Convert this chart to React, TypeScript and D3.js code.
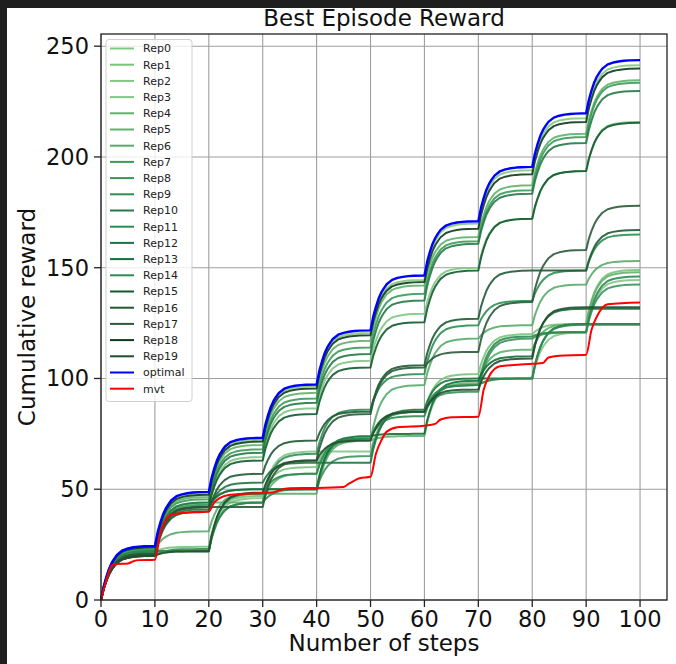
import React, { useEffect, useRef } from 'react';
import * as d3 from 'd3';

// plateau reached at the end of each 10-step patch (cumulative reward)
const optimal = [24.4, 48.8, 73.2, 97.3, 121.7, 146.5, 171, 195.5, 219.7, 243.7];

const rep0 = [24, 48.2, 72.3, 96.5, 120.5, 144.5, 170, 194, 217.5, 241.4];
const rep1 = [22, 24, 47, 60, 73, 85, 102, 120, 124.6, 149];
const rep2 = [21, 42.5, 64.5, 86.5, 108, 129.2, 150, 172.1, 193.6, 215.8];
const rep3 = [22, 22, 46, 67, 67, 85, 97, 100, 120.8, 144.5];
const rep4 = [23.4, 46.5, 70, 93.5, 117, 142, 163.9, 187.2, 210.5, 234.6];
const rep5 = [21, 44, 44, 57, 72, 74, 98, 113, 124.6, 148];
const rep6 = [23, 31, 48, 48, 72, 97, 118, 124, 142.4, 153];
const rep7 = [22.8, 45.5, 68, 91, 114, 138.2, 162, 185, 209, 233.5];
const rep8 = [21, 43, 50, 50, 65, 85, 94, 118, 120.8, 142.4];
const rep9 = [22, 22, 44, 66, 86, 102, 124, 135, 148.7, 165];
const rep10 = [22, 44, 66.5, 89, 111, 135.2, 160.8, 183.4, 206.3, 229.8];
const rep11 = [20, 23, 44, 50, 73, 83, 97, 119, 121, 146];
const rep12 = [20, 41, 53, 62, 62, 86, 100, 100, 124.6, 124.6];
const rep13 = [21, 42, 50, 50, 74, 75, 99, 110, 131.5, 131.5];
const rep14 = [22, 22, 48, 57, 73, 85, 97, 100, 124.3, 124.3];
const rep15 = [20.5, 42, 63, 84, 105, 125.4, 148.7, 172.1, 193.6, 215.4];
const rep16 = [20, 40, 57, 72, 85, 106, 127, 148.7, 148.7, 167];
const rep17 = [21, 42, 42, 63, 84, 105, 112, 134.5, 158, 178];
const rep18 = [23.8, 47.5, 71.5, 95.5, 119.5, 143.5, 167.6, 192.2, 215.8, 239.9];
const rep19 = [20, 22, 48.5, 63, 72, 85, 95, 109, 132.2, 132.2];

const reps = [rep0, rep1, rep2, rep3, rep4, rep5, rep6, rep7, rep8, rep9,
  rep10, rep11, rep12, rep13, rep14, rep15, rep16, rep17, rep18, rep19];

const repColors = ['#80c980', '#78c47a', '#80c784', '#84c58a', '#5fb16c', '#62b070', '#58ab6a',
  '#3c9a5a', '#3a935a', '#2e8f52', '#237a44', '#2f8a50', '#1e7440', '#137038', '#2e8a52',
  '#115a2e', '#1f5a34', '#2a5a3a', '#0e3a1e', '#264d30'];

// how a patch fills up: steps since entering the patch -> share of that patch's gain
const riseSteps = [0, 0.5, 1, 1.5, 2, 2.5, 3, 4, 5, 6, 7, 8, 10];
const riseShare = [0, 0.25, 0.43, 0.58, 0.69, 0.77, 0.84, 0.92, 0.955, 0.975, 0.988, 0.995, 1];

// mvt curve, read point by point
const mvtSteps = [0, 1, 2, 3, 5, 6, 7, 10, 11, 12, 13, 15, 20, 21, 22, 24, 30, 32, 33, 35, 40, 45, 46, 48, 50,
  51, 52, 53, 55, 60, 62, 63, 65, 70, 71, 72, 74, 80, 82, 83, 85, 90, 91, 92, 94, 100];
const mvtReward = [0, 9, 15.5, 16.3, 16.5, 17.5, 18, 18.2, 30, 36, 38.5, 39.3, 40, 44, 46, 47.5, 48.3, 48.6,
  49.5, 50.5, 50.6, 51, 52.5, 55, 55.6, 66, 72, 76, 78, 78.7, 79.5, 81.5, 82.5, 82.7, 95, 101, 105.5, 106.6,
  107, 109.5, 110.3, 110.7, 122, 128, 133.5, 134.3];

const xTicks = [0, 10, 20, 30, 40, 50, 60, 70, 80, 90, 100];
const yTicks = [0, 50, 100, 150, 200, 250];

const legendNames = [...reps.map((_, i) => `Rep${i}`), 'optimal', 'mvt'];
const legendColors = [...repColors, '#0000ff', '#ff0000'];

const font = 'DejaVu Sans, sans-serif';

function patchPoints(levels: number[]): [number, number][] {
  const pts: [number, number][] = [[0, 0]];
  let prev = 0;
  levels.forEach((lev, k) => {
    for (let j = 1; j < riseSteps.length; j++) {
      pts.push([k * 10 + riseSteps[j], prev + (lev - prev) * riseShare[j]]);
    }
    prev = lev;
  });
  return pts;
}

const App = () => {
  const ref = useRef<SVGSVGElement>(null);

  useEffect(() => {
    if (!ref.current) return;
    const width = 676;
    const height = 664;
    const left = 101, right = 667, top = 34, bottom = 600;

    const svg = d3.select(ref.current);
    svg.selectAll('*').remove();
    svg.attr('width', width).attr('height', height);

    // dark frame round the figure
    svg.append('rect').attr('width', width).attr('height', height).attr('fill', '#1f1f1f');
    svg.append('rect').attr('x', 7).attr('y', 8).attr('width', width - 7).attr('height', height - 8).attr('fill', '#ffffff');

    const x = d3.scaleLinear().domain([0, 105]).range([left, right]);
    const y = d3.scaleLinear().domain([0, 255.5]).range([bottom, top]);

    const g = svg.append('g');

    // grid
    g.selectAll('.vgrid').data(xTicks).join('line')
      .attr('x1', d => x(d)).attr('x2', d => x(d)).attr('y1', top).attr('y2', bottom)
      .attr('stroke', '#9e9e9e').attr('stroke-width', 1.1);
    g.selectAll('.hgrid').data(yTicks).join('line')
      .attr('x1', left).attr('x2', right).attr('y1', d => y(d)).attr('y2', d => y(d))
      .attr('stroke', '#9e9e9e').attr('stroke-width', 1.1);

    const line = d3.line<[number, number]>().x(d => x(d[0])).y(d => y(d[1]));

    reps.forEach((r, i) => {
      g.append('path').attr('d', line(patchPoints(r)))
        .attr('fill', 'none').attr('stroke', repColors[i]).attr('stroke-width', 2)
        .attr('stroke-linejoin', 'round').attr('opacity', 0.9);
    });

    g.append('path').attr('d', line(patchPoints(optimal)))
      .attr('fill', 'none').attr('stroke', '#0000ff').attr('stroke-width', 2.4).attr('stroke-linejoin', 'round');

    const mvt = mvtSteps.map((s, i) => [s, mvtReward[i]] as [number, number]);
    g.append('path').attr('d', line.curve(d3.curveMonotoneX)(mvt))
      .attr('fill', 'none').attr('stroke', '#ff0000').attr('stroke-width', 2).attr('stroke-linejoin', 'round');

    // spines
    g.append('rect').attr('x', left).attr('y', top).attr('width', right - left).attr('height', bottom - top)
      .attr('fill', 'none').attr('stroke', '#222').attr('stroke-width', 1.3);

    // ticks
    g.selectAll('.xt').data(xTicks).join('line')
      .attr('x1', d => x(d)).attr('x2', d => x(d)).attr('y1', bottom).attr('y2', bottom + 7)
      .attr('stroke', '#222').attr('stroke-width', 1.3);
    g.selectAll('.xl').data(xTicks).join('text')
      .attr('x', d => x(d)).attr('y', bottom + 27).attr('text-anchor', 'middle')
      .attr('font-family', font).attr('font-size', 22.5).attr('fill', '#111').text(d => d);
    g.selectAll('.yt').data(yTicks).join('line')
      .attr('x1', left - 7).attr('x2', left).attr('y1', d => y(d)).attr('y2', d => y(d))
      .attr('stroke', '#222').attr('stroke-width', 1.3);
    g.selectAll('.yl').data(yTicks).join('text')
      .attr('x', left - 12).attr('y', d => y(d) + 8).attr('text-anchor', 'end')
      .attr('font-family', font).attr('font-size', 22.5).attr('fill', '#111').text(d => d);

    // labels
    svg.append('text').attr('x', (left + right) / 2).attr('y', 26).attr('text-anchor', 'middle')
      .attr('font-family', font).attr('font-size', 23).attr('fill', '#111').text('Best Episode Reward');
    svg.append('text').attr('x', (left + right) / 2).attr('y', 651).attr('text-anchor', 'middle')
      .attr('font-family', font).attr('font-size', 23).attr('fill', '#111').text('Number of steps');
    svg.append('text').attr('transform', `translate(35, ${(top + bottom) / 2}) rotate(-90)`)
      .attr('text-anchor', 'middle')
      .attr('font-family', font).attr('font-size', 23).attr('fill', '#111').text('Cumulative reward');

    // legend
    const legend = svg.append('g');
    legend.append('rect').attr('x', 106).attr('y', 39.5).attr('width', 86).attr('height', 362).attr('rx', 3)
      .attr('fill', '#ffffff').attr('fill-opacity', 0.8).attr('stroke', '#d0d0d0');
    legendNames.forEach((name, i) => {
      const row = legend.append('g').attr('transform', `translate(0, ${48.5 + i * 16.2})`);
      row.append('line').attr('x1', 110).attr('x2', 134).attr('y1', 0).attr('y2', 0)
        .attr('stroke', legendColors[i]).attr('stroke-width', 2);
      row.append('text').attr('x', 143).attr('y', 0).attr('dy', '0.36em')
        .attr('font-family', font).attr('font-size', 11).attr('fill', '#222').text(name);
    });
  }, []);

  return <svg ref={ref} style={{ position: 'absolute', left: 0, top: 0 }} />;
};

export default App;
